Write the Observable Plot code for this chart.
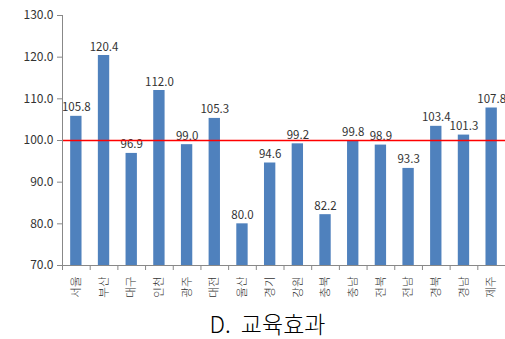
<!DOCTYPE html>
<html><head><meta charset="utf-8">
<script src="https://cdn.jsdelivr.net/npm/d3@7"></script>
<script src="https://cdn.jsdelivr.net/npm/@observablehq/plot@0.6"></script>
<style>
body{margin:0;background:#fff;font-family:"Noto Sans CJK KR",sans-serif;}
#title{font-family:"Noto Sans CJK KR",sans-serif;font-size:23px;font-weight:300;color:#000;width:505px;text-align:center;padding-left:30px;box-sizing:border-box;margin-top:0px;line-height:30px;white-space:pre;}
</style></head>
<body>
<div id="chart"></div>
<div id="title">D.  교육효과</div>
<script>
const regions = ["서울","부산","대구","인천","광주","대전","울산","경기","강원","충북","충남","전북","전남","경북","경남","제주"];
const values = [105.8,120.4,96.9,112.0,99.0,105.3,80.0,94.6,99.2,82.2,99.8,98.9,93.3,103.4,101.3,107.8];
const yTicks = [70,80,90,100,110,120,130];
const baseline = 100;

const data = regions.map((r,i)=>({region:r, value:values[i]}));
const W = 505, ML = 62, MR = 0;
const step = (W-ML-MR)/regions.length;

const chart = Plot.plot({
  width: W, height: 308,
  marginLeft: ML, marginRight: MR, marginTop: 15, marginBottom: 43,
  style:{fontFamily:'"Noto Sans CJK KR",sans-serif', fontSize:"11px", color:"#333"},
  x:{domain: regions, paddingInner: 0.59, paddingOuter: 0.295, round:false, label:null},
  y:{domain:[70,130], label:null},
  marks:[
    Plot.barY(data, {x:"region", y1:70, y2:"value", fill:"#4f81bd"}),
    Plot.text(data, {x:"region", y:"value", text:d=>d.value.toFixed(1), lineAnchor:"bottom", dy:-5, fill:"#333", fontSize:11.5}),
    Plot.ruleY([70], {stroke:"#888", insetLeft:-5}),
    Plot.ruleX(regions, {x:d=>d, y1:70, y2:70, insetBottom:-5, dx:-step/2, stroke:"#888"}),
    Plot.ruleX([regions[regions.length-1]], {x:d=>d, y1:70, y2:70, insetBottom:-5, dx:step/2, stroke:"#888"}),
    Plot.ruleY([baseline], {stroke:"#ff0000", strokeWidth:1.3}),
    Plot.axisY({ticks:yTicks, tickFormat:d=>d.toFixed(1), tickSize:5, tickPadding:4, stroke:"#888", fill:"#333", fontSize:12}),
    Plot.frame({anchor:"left", stroke:"#888"}),
    Plot.axisX({tickRotate:-90, tickSize:0, tickPadding:11, fill:"#333", fontSize:11.5, fontWeight:300})
  ]
});
document.getElementById("chart").appendChild(chart);
</script>
</body></html>
